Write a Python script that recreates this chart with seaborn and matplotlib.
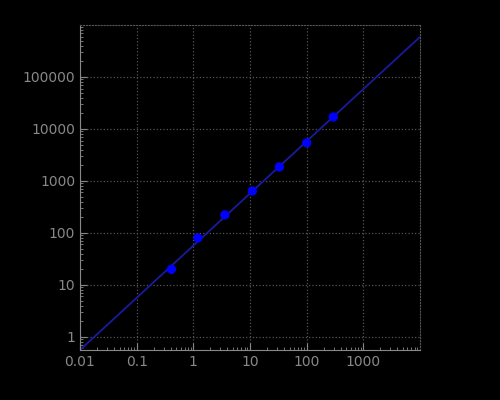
import numpy as np
import matplotlib
matplotlib.use('Agg')
from matplotlib import pyplot as plt
from matplotlib.ticker import FixedLocator, LogLocator, NullFormatter
import seaborn as sns

# DATA
x_pts = [0.41, 1.2, 3.6, 11, 33, 100, 295]
y_pts = [20, 80, 222, 640, 1860, 5400, 17000]
x_line = [0.01, 10000]
y_line = [0.56, 590000]
x_ticks = [0.01, 0.1, 1, 10, 100, 1000]
x_labels = ['0.01', '0.1', '1', '10', '100', '1000']
y_ticks = [1, 10, 100, 1000, 10000, 100000]
y_labels = ['1', '10', '100', '1000', '10000', '100000']

sns.set_style('dark', {'axes.facecolor': 'black', 'figure.facecolor': 'black'})
plt.rcParams['font.family'] = ['DejaVu Sans']

f, ax = plt.subplots(figsize=(5, 4), dpi=100)
f.subplots_adjust(left=0.16, right=0.84, top=0.9375, bottom=0.125)
ax.set_facecolor('black')

sns.lineplot(x=x_line, y=y_line, ax=ax, color='#1a1aa0', linewidth=1.3)
sns.scatterplot(x=x_pts, y=y_pts, ax=ax, color='#0000ff', s=45, edgecolor='none', zorder=5)

ax.set_xscale('log')
ax.set_yscale('log')
ax.set_xlim(0.01, 10000)
ax.set_ylim(0.56, 1e6)
ax.xaxis.set_major_locator(FixedLocator(x_ticks))
ax.set_xticklabels(x_labels)
ax.yaxis.set_major_locator(FixedLocator(y_ticks))
ax.set_yticklabels(y_labels)
ax.xaxis.set_minor_locator(LogLocator(base=10, subs=np.arange(2, 10)))
ax.yaxis.set_minor_locator(LogLocator(base=10, subs=np.arange(2, 10)))
ax.xaxis.set_minor_formatter(NullFormatter())
ax.yaxis.set_minor_formatter(NullFormatter())

ax.grid(True, which='major', color='#555555', linestyle=':', linewidth=0.9)
ax.tick_params(which='both', colors='#888888', labelcolor='#888888', labelsize=10,
               direction='in', bottom=True, left=True)
ax.tick_params(which='major', length=5)
ax.tick_params(which='minor', length=2.5)
for s in ['top', 'right']:
    ax.spines[s].set_color('#555555')
    ax.spines[s].set_linestyle(':')
for s in ['left', 'bottom']:
    ax.spines[s].set_color('#888888')
ax.set(xlabel='', ylabel='')

f.savefig('out.png', dpi=100, facecolor='black')
